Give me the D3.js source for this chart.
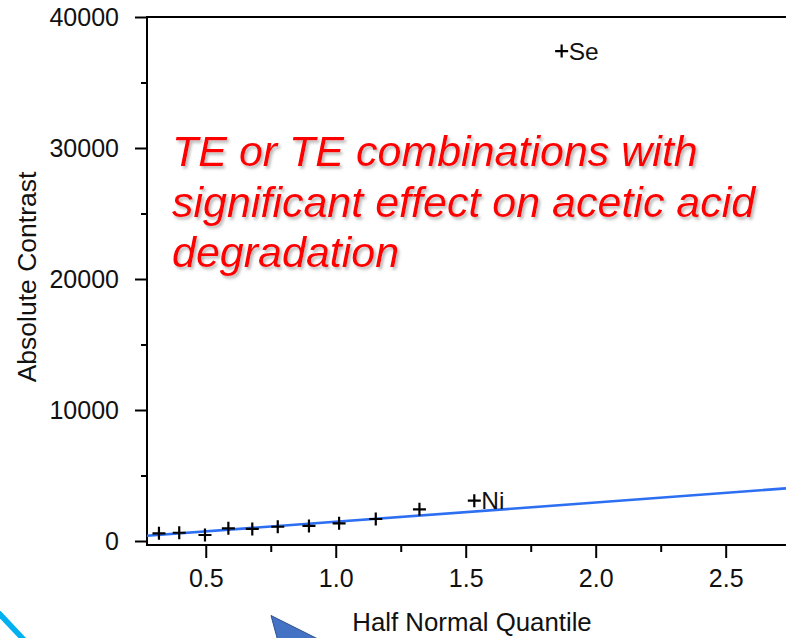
<!DOCTYPE html>
<html>
<head>
<meta charset="utf-8">
<script src="https://cdn.jsdelivr.net/npm/d3@7"></script>
<style>
  html, body { margin: 0; padding: 0; background: #ffffff; }
  svg { display: block; font-family: "Liberation Sans", Arial, sans-serif; }
</style>
</head>
<body>
<svg id="chart" width="786" height="638"></svg>
<script>
// ---- data ----
const quantiles = [0.320, 0.398, 0.497, 0.587, 0.679, 0.777, 0.897, 1.013, 1.154, 1.322, 1.533, 1.869];
const contrasts = [590, 630, 460, 970, 920, 1090, 1150, 1350, 1680, 2420, 3080, 37400];
const pointLabels = ["", "", "", "", "", "", "", "", "", "", "Ni", "Se"];
const xTicks = [0.5, 1.0, 1.5, 2.0, 2.5];
const xMinorTicks = [0.75, 1.25, 1.75, 2.25];
const yTicks = [0, 10000, 20000, 30000, 40000];
const yMinorTicks = [5000, 15000, 25000, 35000];
const lineSlope = 1470;   // reference line through the origin
const xTitle = "Half Normal Quantile";
const yTitle = "Absolute Contrast";
const noteLines = ["TE or TE combinations with", "significant effect on acetic acid", "degradation"];

const svg = d3.select("#chart");
const mLeft = 147, mRight = 786, mTop = 17, mBottom = 545;

const x = d3.scaleLinear().domain([0.274, 2.732]).range([mLeft, mRight]);
const y = d3.scaleLinear().domain([-305, 40000]).range([mBottom, mTop]);

// defs: text shadow
const defs = svg.append("defs");
const f = defs.append("filter").attr("id", "shadow").attr("x", "-5%").attr("y", "-20%").attr("width", "110%").attr("height", "150%");
f.append("feDropShadow").attr("dx", 2).attr("dy", 2.5).attr("stdDeviation", 1.5)
  .attr("flood-color", "#777").attr("flood-opacity", 0.55);

// frame line at top
svg.append("line").attr("x1", mLeft).attr("x2", mRight + 5).attr("y1", mTop).attr("y2", mTop)
  .attr("stroke", "#000").attr("stroke-width", 2);

// axes
const fontSize = 25;
const xAxis = d3.axisBottom(x).tickValues(xTicks).tickFormat(d3.format(".1f")).tickSize(13).tickPadding(11);
const gx = svg.append("g").attr("transform", `translate(0,${mBottom})`).call(xAxis);
const yAxis = d3.axisLeft(y).tickValues(yTicks).tickFormat(d3.format("d")).tickSize(12).tickPadding(16);
const gy = svg.append("g").attr("transform", `translate(${mLeft},0)`).call(yAxis);
[gx, gy].forEach(g => {
  g.select(".domain").remove();
  g.selectAll(".tick line").attr("stroke", "#000").attr("stroke-width", 2);
  g.selectAll(".tick text").attr("fill", "#111").style("font-size", fontSize + "px")
    .style("font-family", "'Liberation Sans', Arial, sans-serif");
});
gx.selectAll(".tick text").attr("dy", "0.71em");
svg.append("g").attr("transform", `translate(0,${mBottom})`)
  .call(d3.axisBottom(x).tickValues(xMinorTicks).tickFormat("").tickSize(7))
  .call(g => g.select(".domain").remove())
  .selectAll("line").attr("stroke", "#000").attr("stroke-width", 2);
svg.append("g").attr("transform", `translate(${mLeft},0)`)
  .call(d3.axisLeft(y).tickValues(yMinorTicks).tickFormat("").tickSize(6))
  .call(g => g.select(".domain").remove())
  .selectAll("line").attr("stroke", "#000").attr("stroke-width", 2);

// axis lines
svg.append("line").attr("x1", mLeft).attr("x2", mLeft).attr("y1", mTop - 1).attr("y2", mBottom + 1)
  .attr("stroke", "#000").attr("stroke-width", 2);
svg.append("line").attr("x1", mLeft - 1).attr("x2", mRight + 5).attr("y1", mBottom).attr("y2", mBottom)
  .attr("stroke", "#000").attr("stroke-width", 2);

// reference line
const xd = x.domain();
const lineData = [[xd[0], lineSlope * xd[0]], [xd[1], lineSlope * xd[1]]];
svg.append("path")
  .attr("d", d3.line().x(d => x(d[0])).y(d => y(d[1]))(lineData))
  .attr("stroke", "#2d6ff2").attr("stroke-width", 2.6).attr("fill", "none");

// points as '+' markers
const pts = quantiles.map((q, i) => ({ q, c: contrasts[i], label: pointLabels[i] }));
const plusPath = "M-6.5,0H6.5M0,-6.5V6.5";
svg.append("g").selectAll("path").data(pts).join("path")
  .attr("transform", d => `translate(${x(d.q)},${y(d.c)})`)
  .attr("d", plusPath).attr("stroke", "#000").attr("stroke-width", 2.2).attr("fill", "none");
svg.append("g").selectAll("text").data(pts.filter(d => d.label)).join("text")
  .attr("x", d => x(d.q) + 7).attr("y", d => y(d.c) + 8.5)
  .attr("fill", "#111").style("font-size", "24.5px").text(d => d.label);

// axis titles
svg.append("text").attr("x", 472).attr("y", 631).attr("text-anchor", "middle")
  .attr("fill", "#111").style("font-size", "25.8px").text(xTitle);
svg.append("text").attr("transform", "translate(36,277) rotate(-90)").attr("text-anchor", "middle")
  .attr("fill", "#111").style("font-size", "26.5px").text(yTitle);

// annotation
const note = svg.append("text").attr("filter", "url(#shadow)")
  .attr("fill", "#ff0000").style("font-size", "43px").style("font-style", "italic");
noteLines.forEach((t, i) => {
  note.append("tspan").attr("x", 172).attr("y", 166 + i * 50.5).text(t);
});

// slide decorations at the bottom edge
svg.append("line").attr("x1", -6).attr("y1", 608).attr("x2", 26).attr("y2", 642)
  .attr("stroke", "#00b0f0").attr("stroke-width", 5.5);
svg.append("path").attr("d", "M271,615.5L330,645L279,645Z")
  .attr("fill", "#4472c4").attr("stroke", "#2f528f").attr("stroke-width", 1);
</script>
</body>
</html>
